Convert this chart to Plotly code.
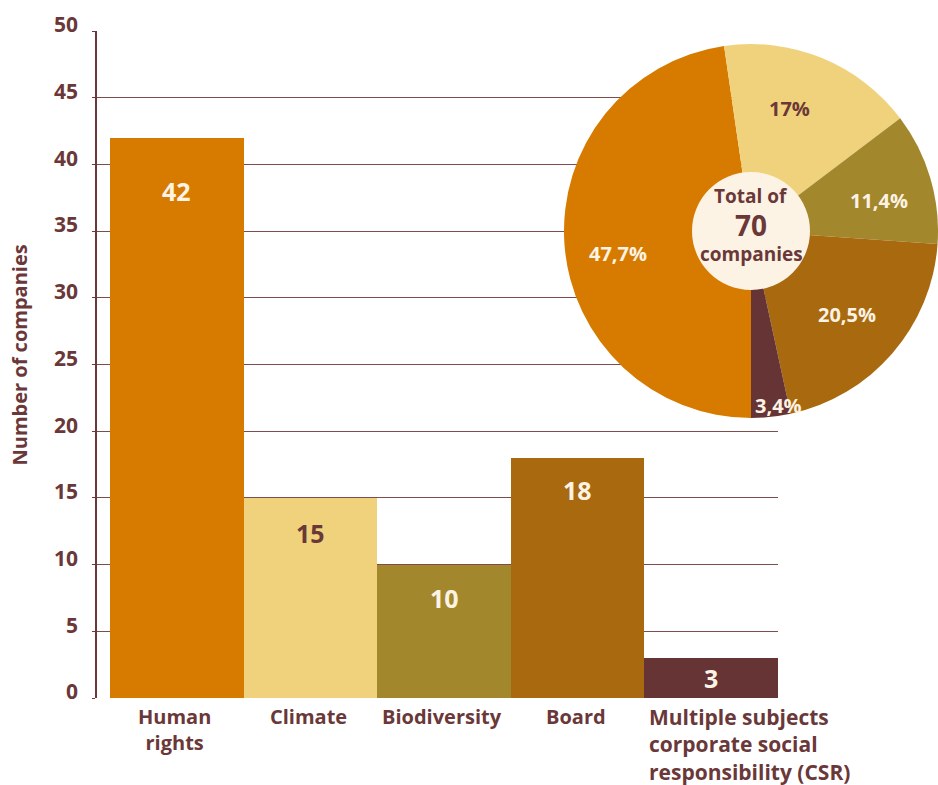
import math
import plotly.graph_objects as go

# ---- data -------------------------------------------------------------
categories = [
    "Human rights",
    "Climate",
    "Biodiversity",
    "Board",
    "Multiple subjects corporate social responsibility (CSR)",
]
category_labels = [
    "Human<br>rights",
    "Climate",
    "Biodiversity",
    "Board",
    "Multiple subjects<br>corporate social<br>responsibility (CSR)",
]
companies = [42, 15, 10, 18, 3]
share_pct = [47.7, 17, 11.4, 20.5, 3.4]
total_companies = 70
y_ticks = [0, 5, 10, 15, 20, 25, 30, 35, 40, 45, 50]
y_title = "Number of companies"

# ---- styling ----------------------------------------------------------
FONT = "Open Sans"
MAROON = "#6a3838"
CREAM = "#fdf3e4"
bar_colors = ["#d67b00", "#efd27b", "#a3872d", "#a8690f", "#663434"]
value_colors = [CREAM, MAROON, CREAM, CREAM, CREAM]
value_drop = [53, 35, 33, 32, 20]          # px below bar top for value labels
share_colors = [CREAM, MAROON, CREAM, CREAM, CREAM]
# label placement on each slice: distance (fraction of radius) and angular nudge (deg)
share_radius = [0.72, 0.685, 0.705, 0.682, 0.947]
share_nudge = [-5.3, -4.6, 3.0, 0.3, -2.7]

W, H = 938, 785
ML, MR, MT, MB = 97, 0, 31, 87
PW, PH = W - ML - MR, H - MT - MB
BAR_RIGHT = 778            # right end of the bar area (px)
BAR_LEFT_PAD = 13          # gap between axis line and first bar (px)

# pie geometry (px)
PIE_CX, PIE_CY, PIE_R = 751, 231, 187
HOLE_R = 59

bar_unit = (BAR_RIGHT - ML - BAR_LEFT_PAD) / len(categories)
x_range = [-0.5 - BAR_LEFT_PAD / bar_unit, len(categories) - 0.5]

def px_to_paper_x(px):
    return (px - ML) / PW

def px_to_paper_y(py):
    return (H - MB - py) / PH

fig = go.Figure()

fig.add_trace(go.Bar(
    x=categories,
    y=companies,
    marker=dict(color=bar_colors, line=dict(width=0)),
    width=1,
    showlegend=False,
    hoverinfo="x+y",
))

pie_cx = px_to_paper_x(PIE_CX)
pie_cy = px_to_paper_y(PIE_CY)
fig.add_trace(go.Pie(
    values=share_pct,
    labels=categories,
    sort=False,
    direction="clockwise",
    rotation=180,
    textinfo="none",
    marker=dict(colors=bar_colors, line=dict(width=0)),
    domain=dict(
        x=[px_to_paper_x(PIE_CX - PIE_R), min(1.0, px_to_paper_x(PIE_CX + PIE_R))],
        y=[px_to_paper_y(PIE_CY + PIE_R), px_to_paper_y(PIE_CY - PIE_R)],
    ),
    showlegend=False,
))

annotations = []

# value labels inside the bars
for cat, val, col, drop in zip(categories, companies, value_colors, value_drop):
    annotations.append(dict(
        x=cat, y=val, xref="x", yref="y",
        text=str(val), showarrow=False,
        xanchor="center", yanchor="middle", yshift=-drop,
        font=dict(family=FONT, size=25, color=col, weight=700),
    ))

# category labels under the bars
for i, (cat, lab) in enumerate(zip(categories, category_labels)):
    last = i == len(categories) - 1
    annotations.append(dict(
        x=cat, y=0, xref="x", yref="y",
        text=lab, showarrow=False,
        yanchor="top", yshift=-3,
        xanchor="left" if last else "center",
        xshift=-(bar_unit / 2) + 3 if last else -2,
        align="left" if last else "center",
        font=dict(family=FONT, size=21 if last else 20, color=MAROON, weight=700),
    ))

# percentage labels on the pie slices
start = 180.0
total = sum(share_pct)
for val, col, rf, nudge in zip(share_pct, share_colors, share_radius, share_nudge):
    span = val / total * 360.0
    mid = math.radians(start + span / 2 + nudge)
    start += span
    r = rf * PIE_R
    annotations.append(dict(
        x=pie_cx, y=pie_cy, xref="paper", yref="paper",
        xanchor="center", yanchor="middle",
        xshift=r * math.sin(mid), yshift=r * math.cos(mid),
        text=f"{val:g}".replace(".", ",") + "%",
        showarrow=False,
        font=dict(family=FONT, size=20, color=col, weight=700),
    ))

# centre label
for txt, dy, size in [("Total of", 35, 19), (str(total_companies), 6, 28), ("companies", -23, 19)]:
    annotations.append(dict(
        x=pie_cx, y=pie_cy, xref="paper", yref="paper",
        xanchor="center", yanchor="middle",
        yshift=dy, text=txt, showarrow=False,
        font=dict(family=FONT, size=size, color=MAROON, weight=700),
    ))

# y-axis title
annotations.append(dict(
    x=0, y=px_to_paper_y(355), xref="paper", yref="paper",
    xanchor="center", yanchor="middle", xshift=18.5 - ML,
    text=y_title, textangle=-90, showarrow=False,
    font=dict(family=FONT, size=20, color=MAROON, weight=700),
))

fig.update_layout(
    width=W, height=H,
    margin=dict(l=ML, r=MR, t=MT, b=MB, pad=0),
    paper_bgcolor="white",
    plot_bgcolor="white",
    bargap=0,
    showlegend=False,
    annotations=annotations,
    shapes=[dict(
        type="circle", xref="paper", yref="paper",
        xsizemode="pixel", ysizemode="pixel",
        xanchor=pie_cx, yanchor=pie_cy,
        x0=-HOLE_R, x1=HOLE_R, y0=-HOLE_R, y1=HOLE_R,
        fillcolor=CREAM, line=dict(width=0), layer="above",
    )],
    xaxis=dict(
        domain=[0, (BAR_RIGHT - ML) / PW],
        range=x_range,
        showgrid=False, zeroline=False, showline=False,
        showticklabels=False, ticks="",
        fixedrange=True,
    ),
    yaxis=dict(
        range=[0, 50],
        tickvals=y_ticks,
        showgrid=True, gridcolor="#7d4c4c", gridwidth=1.3,
        zeroline=False,
        showline=True, linecolor=MAROON, linewidth=1.5,
        ticks="outside", ticklen=3, tickcolor=MAROON, tickwidth=1.3,
        ticklabelshift=-6, ticklabelstandoff=10,
        tickfont=dict(family=FONT, size=21, color=MAROON, weight=700),
        fixedrange=True,
    ),
)

fig.write_html("out.html")
